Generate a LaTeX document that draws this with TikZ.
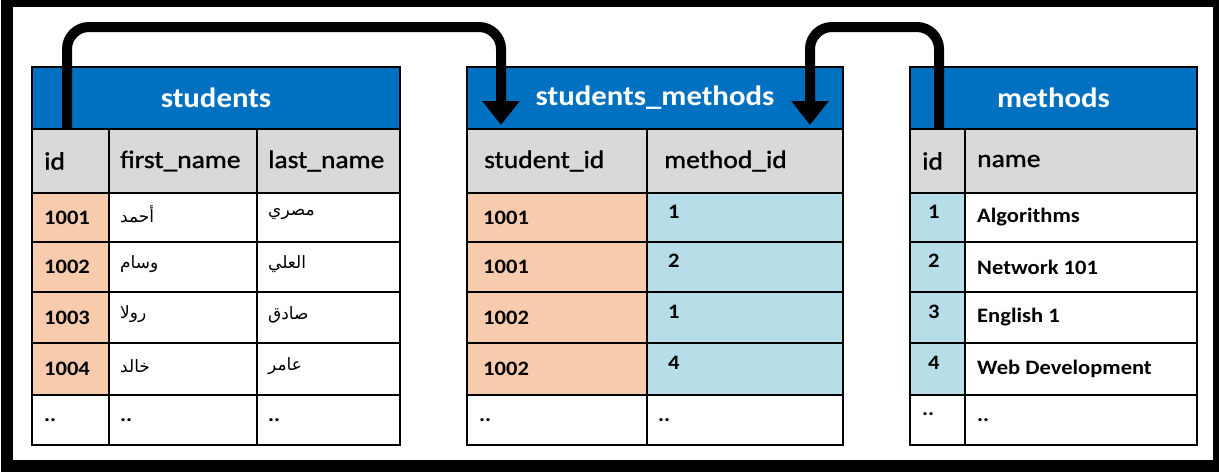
\documentclass[tikz,border=0pt]{standalone}
\usepackage{fontspec}
\setmainfont{Carlito}
\newfontfamily\calf[FakeStretch=1.1]{Carlito}
\newfontfamily\calh[FakeStretch=1.1,FakeBold=1.2]{Carlito}
\newfontfamily\arabicfont[Script=Arabic]{DejaVu Sans}
\TeXXeTstate=1
\usetikzlibrary{arrows.meta}
\definecolor{tblue}{HTML}{0070C0}
\definecolor{tgray}{HTML}{D9D9D9}
\definecolor{tpeach}{HTML}{F8CBAD}
\definecolor{tlblue}{HTML}{B7DEE8}
\tikzset{
  cellbox/.style={draw=black, line width=2.5pt, anchor=north west, inner sep=0pt, outer sep=0pt},
  titletext/.style={text=white, inner sep=0pt, font=\calf\bfseries\fontsize{28}{28}\selectfont},
  htext/.style={anchor=west, inner sep=0pt, font=\calh\fontsize{25}{25}\selectfont},
  dtext/.style={anchor=west, inner sep=0pt, font=\calf\bfseries\fontsize{20.5}{20.5}\selectfont},
  atext/.style={anchor=west, inner sep=0pt, yshift=3pt, font=\arabicfont\fontsize{17}{17}\selectfont},
  conn/.style={draw=black, line width=10pt, rounded corners=22pt, -{Triangle[width=36pt,length=24pt]}}
}
% name, x, y, w, h, fill, text style, text
\newcommand\tcell[8]{%
  \node[cellbox, fill=#6, minimum width=#4pt, minimum height=#5pt] (#1) at (#2,#3) {};
  \node[#7] (#1-t) at (#1.west) {#8};}
\begin{document}
\begin{tikzpicture}[x=1pt,y=-1pt]
\useasboundingbox (0,0) rectangle (1219,472);
\fill[black] (1,0) rectangle (1219,472);
\fill[white] (13,7) rectangle (1213,460);

% ---------- students ----------
\node[cellbox, fill=tblue, minimum width=368pt, minimum height=62pt] (st-title) at (32,67) {};
\node[titletext] (st-title-t) at (st-title.center) {students};
\tcell{st-h1}{32}{129}{77}{64}{tgray}{htext, xshift=12pt}{id}
\tcell{st-h2}{109}{129}{148}{64}{tgray}{htext, xshift=11pt}{first\_name}
\tcell{st-h3}{257}{129}{143}{64}{tgray}{htext, xshift=11pt}{last\_name}
\tcell{st-11}{32}{193}{77}{49}{tpeach}{dtext, xshift=12pt}{1001}
\tcell{st-12}{109}{193}{148}{49}{white}{atext, xshift=11pt}{\beginR أحمد\endR}
\tcell{st-13}{257}{193}{143}{49}{white}{atext, xshift=11pt}{\beginR مصري\endR}
\tcell{st-21}{32}{242}{77}{50}{tpeach}{dtext, xshift=12pt}{1002}
\tcell{st-22}{109}{242}{148}{50}{white}{atext, xshift=11pt}{\beginR وسام\endR}
\tcell{st-23}{257}{242}{143}{50}{white}{atext, xshift=11pt}{\beginR العلي\endR}
\tcell{st-31}{32}{292}{77}{51}{tpeach}{dtext, xshift=12pt}{1003}
\tcell{st-32}{109}{292}{148}{51}{white}{atext, xshift=11pt}{\beginR رولا\endR}
\tcell{st-33}{257}{292}{143}{51}{white}{atext, xshift=11pt}{\beginR صادق\endR}
\tcell{st-41}{32}{343}{77}{52}{tpeach}{dtext, xshift=12pt}{1004}
\tcell{st-42}{109}{343}{148}{52}{white}{atext, xshift=11pt}{\beginR خالد\endR}
\tcell{st-43}{257}{343}{143}{52}{white}{atext, xshift=11pt}{\beginR عامر\endR}
\tcell{st-51}{32}{395}{77}{50}{white}{dtext, xshift=12pt}{..}
\tcell{st-52}{109}{395}{148}{50}{white}{dtext, xshift=11pt}{..}
\tcell{st-53}{257}{395}{143}{50}{white}{dtext, xshift=11pt}{..}

% ---------- students_methods ----------
\node[cellbox, fill=tblue, minimum width=376pt, minimum height=62pt] (sm-title) at (467,67) {};
\node[titletext] (sm-title-t) at (sm-title.center) {students\_methods};
\tcell{sm-h1}{467}{129}{180}{64}{tgray}{htext, xshift=17pt}{student\_id}
\tcell{sm-h2}{647}{129}{196}{64}{tgray}{htext, xshift=17pt}{method\_id}
\tcell{sm-11}{467}{193}{180}{49}{tpeach}{dtext, xshift=16pt}{1001}
\tcell{sm-12}{647}{193}{196}{49}{tlblue}{dtext, xshift=21pt, yshift=6pt}{1}
\tcell{sm-21}{467}{242}{180}{50}{tpeach}{dtext, xshift=16pt}{1001}
\tcell{sm-22}{647}{242}{196}{50}{tlblue}{dtext, xshift=21pt, yshift=6pt}{2}
\tcell{sm-31}{467}{292}{180}{51}{tpeach}{dtext, xshift=16pt}{1002}
\tcell{sm-32}{647}{292}{196}{51}{tlblue}{dtext, xshift=21pt, yshift=6pt}{1}
\tcell{sm-41}{467}{343}{180}{52}{tpeach}{dtext, xshift=16pt}{1002}
\tcell{sm-42}{647}{343}{196}{52}{tlblue}{dtext, xshift=21pt, yshift=6pt}{4}
\tcell{sm-51}{467}{395}{180}{50}{white}{dtext, xshift=12pt}{..}
\tcell{sm-52}{647}{395}{196}{50}{white}{dtext, xshift=11pt}{..}

% ---------- methods ----------
\node[cellbox, fill=tblue, minimum width=287pt, minimum height=62pt] (me-title) at (910,67) {};
\node[titletext] (me-title-t) at (me-title.center) {methods};
\tcell{me-h1}{910}{129}{55}{64}{tgray}{htext, xshift=12pt}{id}
\tcell{me-h2}{965}{129}{232}{64}{tgray}{htext, xshift=12pt}{name}
\tcell{me-11}{910}{193}{55}{49}{tlblue}{dtext, xshift=18pt, yshift=6pt}{1}
\tcell{me-12}{965}{193}{232}{49}{white}{dtext, xshift=12pt}{Algorithms}
\tcell{me-21}{910}{242}{55}{50}{tlblue}{dtext, xshift=18pt, yshift=6pt}{2}
\tcell{me-22}{965}{242}{232}{50}{white}{dtext, xshift=12pt}{Network 101}
\tcell{me-31}{910}{292}{55}{51}{tlblue}{dtext, xshift=18pt, yshift=6pt}{3}
\tcell{me-32}{965}{292}{232}{51}{white}{dtext, xshift=12pt}{English 1}
\tcell{me-41}{910}{343}{55}{52}{tlblue}{dtext, xshift=18pt, yshift=6pt}{4}
\tcell{me-42}{965}{343}{232}{52}{white}{dtext, xshift=12pt}{Web Development}
\tcell{me-51}{910}{395}{55}{50}{white}{dtext, xshift=12pt, yshift=6pt}{..}
\tcell{me-52}{965}{395}{232}{50}{white}{dtext, xshift=12pt}{..}

% ---------- connectors ----------
\coordinate (a1-mid) at (501,27);
\coordinate (a1-end) at (501,125);
\coordinate (a2-mid) at (810,27);
\coordinate (a2-end) at (810,125);
\draw[conn] ([xshift=-3.5pt]st-h1.north) |- (a1-mid) -- (a1-end);
\draw[conn] ([xshift=1.5pt]me-h1.north) |- (a2-mid) -- (a2-end);
\end{tikzpicture}
\end{document}
